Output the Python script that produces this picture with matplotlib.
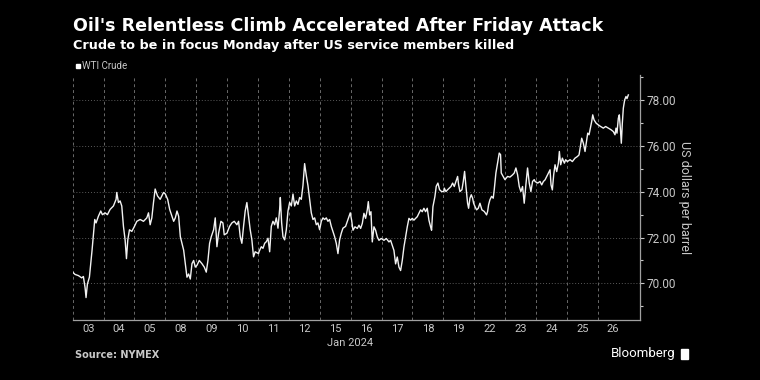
import numpy as np
import matplotlib.pyplot as plt
from matplotlib.patches import Rectangle

# Trading sessions shown on the x axis (Jan 2024)
sessions = ['03', '04', '05', '08', '09', '10', '11', '12', '15',
            '16', '17', '18', '19', '22', '23', '24', '25', '26']

# WTI crude intraday path: time in trading sessions since Jan 3 open, price in $/bbl
days = [0.000, 0.076, 0.184, 0.292, 0.346, 0.400, 0.432, 0.476, 0.541, 0.584,
        0.627, 0.670, 0.714, 0.757, 0.832, 0.908, 0.962, 1.049, 1.124, 1.211,
        1.319, 1.405, 1.427, 1.481, 1.535, 1.589, 1.643, 1.697, 1.741, 1.784,
        1.838, 1.914, 2.000, 2.076, 2.184, 2.292, 2.400, 2.454, 2.508, 2.562,
        2.616, 2.670, 2.746, 2.832, 2.941,
        3.000, 3.075, 3.140, 3.216, 3.269, 3.323, 3.377, 3.431, 3.485, 3.539,
        3.593, 3.647, 3.700, 3.754, 3.808, 3.862, 3.916, 3.970, 4.024, 4.099,
        4.185, 4.261, 4.325, 4.379, 4.433, 4.487, 4.563, 4.616, 4.670, 4.724,
        4.800, 4.864, 4.907, 4.994, 5.080, 5.155, 5.231, 5.317, 5.371, 5.425,
        5.478, 5.532, 5.586, 5.640, 5.694, 5.748, 5.802, 5.856, 5.909, 6.017,
        6.032, 6.108, 6.162, 6.216, 6.270, 6.324, 6.378, 6.431, 6.485, 6.539,
        6.593, 6.647, 6.701, 6.723, 6.766, 6.809, 6.863, 6.917, 6.971, 7.025,
        7.079, 7.133, 7.187, 7.241, 7.294, 7.348, 7.402, 7.456, 7.510, 7.564,
        7.618, 7.672, 7.726, 7.780, 7.834, 7.888, 7.942, 7.996, 8.050, 8.104,
        8.157, 8.211, 8.265, 8.319, 8.373, 8.427, 8.481, 8.535, 8.589, 8.643,
        8.697, 8.751, 8.837, 8.988,
        9.032, 9.076, 9.140, 9.216, 9.270, 9.324, 9.378, 9.431, 9.485, 9.539,
        9.572, 9.615, 9.658, 9.701, 9.755, 9.809, 9.863, 9.917, 9.992, 10.079,
        10.154, 10.241, 10.294, 10.348, 10.402, 10.456, 10.510, 10.564, 10.618, 10.672,
        10.726, 10.780, 10.834, 10.888, 10.942, 10.996, 11.050, 11.104, 11.157, 11.211,
        11.265, 11.319, 11.373, 11.427, 11.481, 11.535, 11.589, 11.621, 11.665, 11.729,
        11.772, 11.826, 11.880, 11.945, 12.020,
        12.032, 12.086, 12.140, 12.194, 12.248, 12.302, 12.356, 12.410, 12.464, 12.496,
        12.539, 12.604, 12.647, 12.690, 12.734, 12.787, 12.820, 12.863, 12.906, 12.949,
        12.982, 13.025, 13.079, 13.133, 13.187, 13.251, 13.327, 13.402, 13.435, 13.467,
        13.510, 13.564, 13.618, 13.650, 13.704, 13.758, 13.812, 13.855, 13.877, 13.996,
        14.082, 14.157, 14.244, 14.298, 14.352, 14.406, 14.460, 14.513, 14.567, 14.621,
        14.675, 14.729, 14.783, 14.837, 14.891, 14.945,
        14.971, 15.057, 15.133, 15.187, 15.241, 15.295, 15.349, 15.403, 15.457, 15.489,
        15.532, 15.575, 15.619, 15.673, 15.727, 15.759, 15.802, 15.856, 15.921, 15.964,
        16.018, 16.105, 16.180, 16.266, 16.342, 16.396, 16.450, 16.482, 16.536, 16.590,
        16.644, 16.677, 16.720, 16.763, 16.806, 16.839, 16.882, 16.947, 17.020, 17.096,
        17.182, 17.258, 17.344, 17.431, 17.506, 17.560, 17.593, 17.625, 17.668, 17.701,
        17.733, 17.765, 17.798, 17.830, 17.873, 17.916, 17.949, 17.992]

wti = [70.49, 70.39, 70.34, 70.24, 70.30, 69.82, 69.38, 69.97, 70.27, 70.86,
       71.45, 72.12, 72.79, 72.64, 72.93, 73.16, 73.00, 73.08, 73.00, 73.23,
       73.38, 73.67, 73.97, 73.53, 73.60, 73.38, 72.49, 71.90, 71.08, 71.90,
       72.34, 72.27, 72.49, 72.71, 72.79, 72.71, 72.86, 73.08, 72.56, 72.86,
       73.53, 74.12, 73.82, 73.67, 73.97,
       73.90, 73.67, 73.23, 72.93, 72.71, 72.86, 73.16, 72.93, 72.04, 71.75,
       71.45, 70.86, 70.27, 70.41, 70.19, 70.86, 71.00, 70.71, 70.79, 71.00,
       70.86, 70.71, 70.49, 71.00, 71.75, 72.04, 72.34, 72.86, 71.60, 72.19,
       72.71, 72.64, 72.12, 72.19, 72.49, 72.64, 72.71, 72.56, 72.71, 72.04,
       71.75, 72.49, 73.16, 73.53, 72.93, 72.34, 71.90, 71.16, 71.38, 71.30,
       71.38, 71.60, 71.53, 71.75, 71.82, 71.97, 71.38, 72.49, 72.71, 72.56,
       72.86, 72.41, 73.23, 73.75, 72.64, 72.04, 71.90, 72.34, 73.16, 73.53,
       73.38, 73.90, 73.38, 73.60, 73.45, 73.75, 73.67, 74.27, 75.23, 74.71,
       74.27, 73.67, 73.08, 72.79, 72.86, 72.56, 72.64, 72.34, 72.71, 72.86,
       72.79, 72.86, 72.71, 72.79, 72.49, 72.27, 72.04, 71.75, 71.30, 71.90,
       72.19, 72.41, 72.49, 73.08,
       72.76, 72.32, 72.47, 72.40, 72.54, 72.40, 72.62, 73.06, 72.84, 73.21,
       73.57, 72.99, 73.13, 71.81, 72.47, 72.32, 72.03, 71.88, 71.96, 71.88,
       71.96, 71.81, 71.88, 71.66, 71.44, 70.85, 71.15, 70.71, 70.56, 71.00,
       71.59, 72.03, 72.47, 72.84, 72.76, 72.84, 72.76, 72.84, 72.91, 73.06,
       73.21, 73.13, 73.28, 73.13, 73.28, 72.76, 72.47, 72.32, 73.35, 73.79,
       74.24, 74.38, 74.09, 74.01, 74.01,
       74.16, 74.01, 74.09, 74.16, 74.23, 74.38, 74.23, 74.45, 74.67, 74.31,
       74.01, 74.09, 74.45, 74.89, 74.23, 73.50, 73.28, 73.72, 73.87, 73.72,
       73.50, 73.36, 73.21, 73.28, 73.50, 73.21, 73.14, 72.99, 73.14, 73.43,
       73.65, 73.80, 73.72, 74.09, 74.82, 75.26, 75.69, 75.62, 74.82, 74.53,
       74.67, 74.64, 74.74, 74.82, 75.04, 74.74, 74.23, 74.01, 74.23, 73.50,
       74.31, 75.04, 74.38, 74.01, 74.45, 74.53,
       74.45, 74.38, 74.45, 74.30, 74.45, 74.52, 74.67, 74.81, 74.96, 74.30,
       74.08, 74.74, 75.18, 74.88, 75.25, 75.76, 75.18, 75.47, 75.25, 75.40,
       75.32, 75.40, 75.32, 75.47, 75.54, 75.61, 76.05, 76.34, 76.12, 75.76,
       76.27, 76.56, 76.49, 76.78, 77.07, 77.36, 77.14, 77.00, 76.92, 76.85,
       76.78, 76.85, 76.78, 76.71, 76.63, 76.49, 76.78, 76.56, 77.21, 77.36,
       76.78, 76.12, 77.00, 77.65, 78.01, 78.16, 78.07, 78.23]

yticks = [70, 72, 74, 76, 78]
yminor = [69, 71, 73, 75, 77, 79]

plt.rcParams['font.family'] = ['Roboto', 'DejaVu Sans']
grey = '#c8c8c8'

fig = plt.figure(figsize=(7.6, 3.8), dpi=100, facecolor='black')
ax = fig.add_axes([72.7 / 760, 60 / 380, (640 - 72.7) / 760, 245 / 380])
ax.set_facecolor('black')

ax.plot(days, wti, color='#f2f2f2', lw=1.0)
ax.set_xlim(0, 18.37)
ax.set_ylim(68.4, 79.1)

# y axis on the right
ax.yaxis.tick_right()
ax.set_yticks(yticks)
ax.set_yticklabels([f'{v:.2f}' for v in yticks])
ax.set_yticks(yminor, minor=True)
ax.tick_params(axis='y', which='major', colors=grey, labelsize=8.5, length=3, width=0.8, pad=2)
ax.tick_params(axis='y', which='minor', colors=grey, length=2, width=0.8)

# x axis: session boundaries as gridlines, labels centred on each session
ax.set_xticks(np.arange(len(sessions)))
ax.set_xticklabels([])
ax.set_xticks(np.arange(len(sessions)) + 0.5, minor=True)
ax.set_xticklabels(sessions, minor=True)
ax.tick_params(axis='x', which='both', length=0, colors=grey, labelsize=8, pad=3)

ax.yaxis.grid(True, which='major', linestyle=(0, (1, 2)), color='#5a5a5a', lw=0.7)
ax.xaxis.grid(True, which='major', linestyle=(0, (3, 3)), color='#6a6a6a', lw=0.7)

for s in ['top', 'left']:
    ax.spines[s].set_visible(False)
for s in ['right', 'bottom']:
    ax.spines[s].set_color('#a0a0a0')
    ax.spines[s].set_linewidth(0.9)

fig.text(684 / 760, 1 - 198 / 380, 'US dollars per barrel', rotation=270,
         ha='center', va='center', color=grey, fontsize=9)
fig.text(350 / 760, 1 - 343.5 / 380, 'Jan 2024', ha='center', va='center',
         color=grey, fontsize=8)

# titles and legend
fig.text(72.7 / 760, 1 - 26 / 380, "Oil's Relentless Climb Accelerated After Friday Attack",
         ha='left', va='center', color='white', fontsize=12.65, fontweight='bold',
         family='DejaVu Sans')
fig.text(72.7 / 760, 1 - 45 / 380, 'Crude to be in focus Monday after US service members killed',
         ha='left', va='center', color='white', fontsize=9.2, fontweight='bold',
         family='DejaVu Sans')
fig.patches.append(Rectangle((75.5 / 760, 1 - 68 / 380), 4.5 / 760, 4.5 / 380,
                             transform=fig.transFigure, color='white'))
fig.text(82 / 760, 1 - 65.7 / 380, 'WTI Crude', ha='left', va='center',
         color=grey, fontsize=7)

fig.text(75 / 760, 1 - 355 / 380, 'Source: NYMEX', ha='left', va='center',
         color=grey, fontsize=7, fontweight='bold', family='DejaVu Sans')
fig.text(676 / 760, 1 - 354 / 380, 'Bloomberg', ha='right', va='center',
         color='white', fontsize=9.5)
fig.patches.append(Rectangle((681 / 760, 1 - 359 / 380), 7 / 760, 10 / 380,
                             transform=fig.transFigure, color='white'))

fig.savefig('out.png', dpi=100, facecolor='black')
